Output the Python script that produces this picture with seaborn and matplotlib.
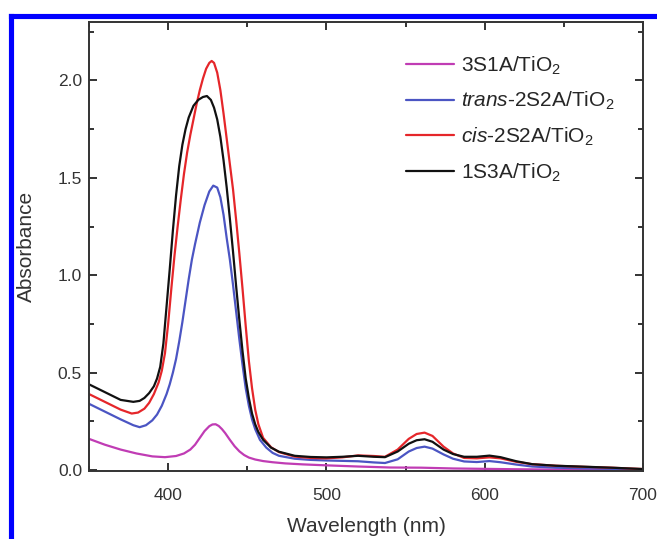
import numpy as np
import pandas as pd
import seaborn as sns
import matplotlib
matplotlib.use("Agg")
import matplotlib.pyplot as plt
from matplotlib.lines import Line2D
from matplotlib.ticker import MultipleLocator, FormatStrFormatter

# ---------------- data ----------------
labels = [r"3S1A/TiO$_2$", r"$\mathit{trans}$-2S2A/TiO$_2$",
          r"$\mathit{cis}$-2S2A/TiO$_2$", r"1S3A/TiO$_2$"]
colors = ["#c03cb4", "#4b55c3", "#e5262a", "#111111"]

wl_3s1a = [350, 360, 370, 380, 390, 398, 405, 410, 414, 417, 420, 423, 426, 428, 430,
           432, 434, 436, 439, 442, 445, 448, 451, 455, 460, 466, 474, 485, 500, 520, 540,
           560, 580, 600, 620, 650, 700]
ab_3s1a = [0.16, 0.13, 0.105, 0.085, 0.07, 0.066, 0.072, 0.085, 0.105, 0.13, 0.165, 0.20,
           0.225, 0.234, 0.235, 0.226, 0.21, 0.19, 0.155, 0.122, 0.096, 0.077, 0.064, 0.054,
           0.046, 0.04, 0.034, 0.029, 0.024, 0.018, 0.013, 0.012, 0.008, 0.006, 0.004,
           0.002, 0.0]

wl_trans = [350, 360, 370, 378, 382, 386, 390, 393, 396, 399, 401, 403, 405, 407, 409,
            411, 413, 415, 417, 420, 423, 426, 428.5, 431, 433, 435, 437, 439, 441, 443,
            445, 447, 449, 451, 453, 455, 458, 462, 466, 470, 480, 490, 500, 510, 520, 530,
            537, 545, 552, 557, 562, 567, 574, 580, 587, 595, 603, 610, 620, 630, 645, 660,
            680, 700]
ab_trans = [0.34, 0.30, 0.26, 0.23, 0.22, 0.23, 0.255, 0.285, 0.33, 0.39, 0.44, 0.50, 0.57,
            0.66, 0.76, 0.87, 0.98, 1.08, 1.16, 1.27, 1.36, 1.43, 1.46, 1.45, 1.40, 1.31,
            1.19, 1.08, 0.95, 0.81, 0.67, 0.54, 0.42, 0.33, 0.26, 0.21, 0.155, 0.115, 0.088,
            0.073, 0.058, 0.052, 0.049, 0.047, 0.045, 0.039, 0.036, 0.055, 0.095, 0.113,
            0.12, 0.11, 0.08, 0.058, 0.044, 0.041, 0.046, 0.04, 0.028, 0.018, 0.012, 0.009,
            0.006, 0.003]

wl_cis = [350, 360, 370, 377, 381, 385, 388, 391, 394, 396, 398, 400, 402, 404, 406, 408,
          410, 412, 414, 416, 418, 420, 422, 424, 426, 427.5, 429, 431, 433, 435, 437, 439,
          441, 443, 445, 447, 449, 451, 453, 455, 457, 460, 465, 470, 480, 490, 500, 510,
          520, 530, 537, 545, 552, 557, 562, 567, 574, 580, 587, 595, 603, 610, 620, 630,
          645, 660, 680, 700]
ab_cis = [0.39, 0.35, 0.31, 0.29, 0.295, 0.315, 0.345, 0.39, 0.45, 0.51, 0.60, 0.75, 0.93,
          1.10, 1.25, 1.39, 1.52, 1.63, 1.72, 1.80, 1.88, 1.95, 2.01, 2.06, 2.09, 2.10, 2.09,
          2.04, 1.95, 1.83, 1.70, 1.57, 1.44, 1.28, 1.11, 0.93, 0.74, 0.56, 0.42, 0.31,
          0.235, 0.165, 0.117, 0.092, 0.069, 0.062, 0.06, 0.065, 0.075, 0.072, 0.068,
          0.105, 0.16, 0.185, 0.192, 0.175, 0.12, 0.085, 0.062, 0.06, 0.065, 0.06, 0.042,
          0.03, 0.022, 0.017, 0.012, 0.005]

wl_1s3a = [350, 360, 370, 378, 382, 385, 388, 391, 393, 395, 397, 399, 401, 403, 405, 407,
           409, 411, 413, 416, 419, 422, 424.5, 427, 429, 431, 433, 435, 437, 439, 441, 443,
           445, 447, 449, 451, 453, 455, 457, 460, 465, 470, 480, 490, 500, 510, 520, 530,
           537, 545, 552, 557, 562, 567, 574, 580, 587, 595, 603, 610, 620, 630, 645, 660,
           680, 700]
ab_1s3a = [0.44, 0.40, 0.36, 0.35, 0.355, 0.37, 0.395, 0.43, 0.47, 0.53, 0.65, 0.84, 1.03,
           1.23, 1.41, 1.56, 1.67, 1.75, 1.81, 1.87, 1.90, 1.915, 1.92, 1.90, 1.86, 1.80,
           1.71, 1.59, 1.45, 1.29, 1.12, 0.94, 0.77, 0.61, 0.47, 0.37, 0.29, 0.235, 0.195,
           0.155, 0.115, 0.094, 0.073, 0.067, 0.065, 0.068, 0.073, 0.068, 0.066, 0.095,
           0.135, 0.153, 0.158, 0.145, 0.105, 0.082, 0.068, 0.068, 0.074, 0.066, 0.045,
           0.03, 0.022, 0.018, 0.012, 0.005]

series = [(wl_3s1a, ab_3s1a), (wl_trans, ab_trans), (wl_cis, ab_cis), (wl_1s3a, ab_1s3a)]
frames = []
for lab, (w, a) in zip(labels, series):
    frames.append(pd.DataFrame({"Wavelength": w, "Absorbance": a, "Sample": lab}))
df = pd.concat(frames, ignore_index=True)

# ---------------- style ----------------
sns.set_style("ticks")
plt.rcParams["font.family"] = ["Liberation Sans", "DejaVu Sans"]
plt.rcParams["mathtext.fontset"] = "custom"
plt.rcParams["mathtext.rm"] = "Liberation Sans"
plt.rcParams["mathtext.it"] = "Liberation Sans:italic"
plt.rcParams["mathtext.bf"] = "Liberation Sans:bold"

fig = plt.figure(figsize=(6.57, 5.39), dpi=100)
ax = fig.add_axes([89 / 657, 1 - 471 / 539, (643 - 89) / 657, (471 - 22) / 539])

sns.lineplot(data=df, x="Wavelength", y="Absorbance", hue="Sample",
             palette=dict(zip(labels, colors)), hue_order=labels,
             sort=False, estimator=None, linewidth=1.6, ax=ax)

ax.set_xlim(350, 700)
ax.set_ylim(-0.005, 2.3)
ax.xaxis.set_major_locator(MultipleLocator(100))
ax.xaxis.set_minor_locator(MultipleLocator(50))
ax.yaxis.set_major_locator(MultipleLocator(0.5))
ax.yaxis.set_minor_locator(MultipleLocator(0.25))
ax.yaxis.set_major_formatter(FormatStrFormatter("%.1f"))

spine_c = "#333333"
for s in ax.spines.values():
    s.set_visible(True)
    s.set_color(spine_c)
    s.set_linewidth(1.4)
ax.tick_params(which="both", direction="in", top=True, right=True, color=spine_c,
               width=1.4, labelsize=12.5, labelcolor="#333333")
ax.tick_params(which="major", length=5.8)
ax.tick_params(which="minor", length=3.6)
ax.tick_params(axis="x", pad=12)
ax.tick_params(axis="y", pad=5)

ax.set_xlabel("Wavelength (nm)", fontsize=15, color="#333333", labelpad=10)
ax.set_ylabel("Absorbance", fontsize=15, color="#333333", labelpad=16)

handles, labs = ax.get_legend_handles_labels()
ax.legend(handles, labs, loc="upper left", bbox_to_anchor=(0.573, 0.928),
          frameon=False, fontsize=15, handlelength=2.3, handletextpad=0.3,
          labelspacing=0.64, borderpad=0, borderaxespad=0)

# blue frame of the figure panel
bc = "#0000ff"
fig.add_artist(Line2D([10.5 / 657, 10.5 / 657], [0, 1 - 15.5 / 539], color=bc,
                      linewidth=3.7, transform=fig.transFigure, solid_capstyle="projecting"))
fig.add_artist(Line2D([10.5 / 657, 1], [1 - 15.5 / 539, 1 - 15.5 / 539], color=bc,
                      linewidth=3.7, transform=fig.transFigure, solid_capstyle="projecting"))

fig.savefig("out.png", dpi=100)
